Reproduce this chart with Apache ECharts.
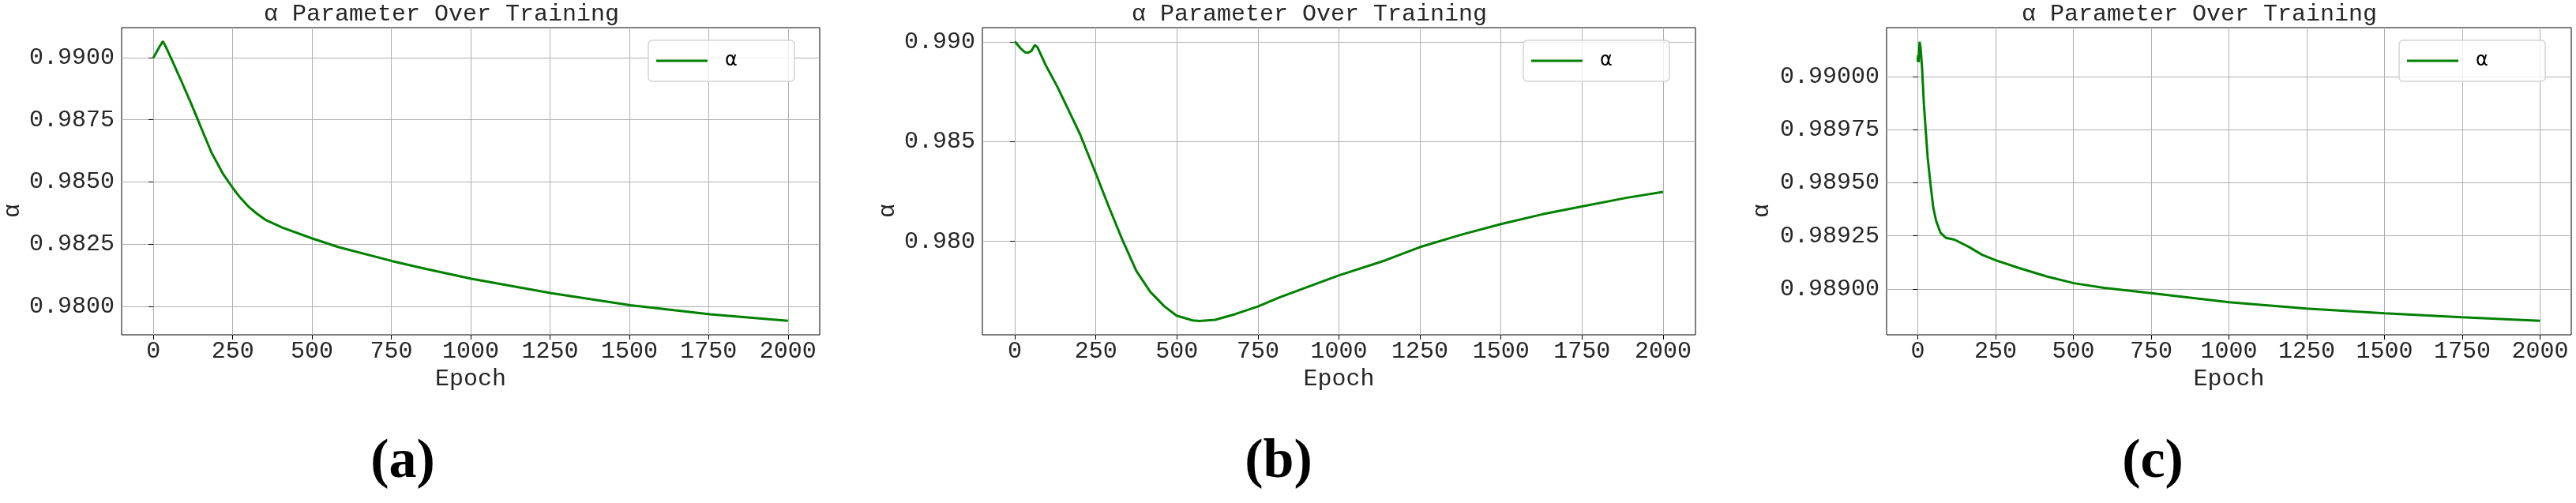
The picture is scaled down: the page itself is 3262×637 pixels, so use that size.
<!DOCTYPE html>
<html>
<head>
<meta charset="utf-8">
<script src="https://cdn.jsdelivr.net/npm/echarts@6/dist/echarts.min.js"></script>
<style>
html,body{margin:0;padding:0;background:#fff;}
#chart{width:3262px;height:637px;}
</style>
</head>
<body>
<div id="chart"></div>
<script>
// ---- data ----
const titleText = 'α Parameter Over Training';
const xName = 'Epoch';
const yName = 'α';
const seriesName = 'α';
const panelLabels = ['(a)', '(b)', '(c)'];

const xTicks = [0, 250, 500, 750, 1000, 1250, 1500, 1750, 2000];

const epochA = [0,10,20,30,40,57,85,121,152,183,219,252,274,299,326,352,406,501,584,753,861,1002,1254,1503,1754,2000];
const alphaA = [0.99000,0.99022,0.99045,0.99066,0.99042,0.98995,0.98915,0.98810,0.98714,0.98619,0.98534,0.98473,0.98437,0.98402,0.98373,0.98349,0.98317,0.98273,0.98238,0.98182,0.98150,0.98111,0.98053,0.98005,0.97968,0.97942];
const yTicksA = [0.9800, 0.9825, 0.9850, 0.9875, 0.9900];

const epochB = [0,18,32,40,51,62,70,96,131,166,201,250,288,331,375,418,462,499,549,570,618,679,750,818,864,999,1143,1249,1376,1500,1628,1749,1889,2000];
const alphaB = [0.99002,0.98967,0.98947,0.98945,0.98954,0.98984,0.98973,0.98881,0.98776,0.98657,0.98538,0.98340,0.98182,0.98011,0.97852,0.97747,0.97674,0.97628,0.97604,0.97601,0.97607,0.97635,0.97674,0.97720,0.97748,0.97829,0.97905,0.97971,0.98033,0.98087,0.98136,0.98175,0.98219,0.98248];
const yTicksB = [0.980, 0.985, 0.990];

const epochC = [0,1,3,6,9,14,20,26,32,41,50,59,73,91,118,163,208,251,326,416,502,598,750,1001,1249,1500,1748,2000];
const alphaC = [0.990071,0.990101,0.990067,0.990164,0.990139,0.990039,0.989866,0.989742,0.989618,0.989494,0.989383,0.989321,0.989265,0.989240,0.989232,0.989199,0.989160,0.989135,0.989098,0.989058,0.989027,0.989005,0.988980,0.988937,0.988908,0.988885,0.988867,0.988850];
const yTicksC = [0.98900, 0.98925, 0.98950, 0.98975, 0.99000];

// ---- layout ----
const panels = [
  {ep: epochA, al: alphaA, yt: yTicksA, dec: 4, ymin: 0.978857, ymax: 0.991206,
   left: 154, width: 884, legendLeft: 821, titleX: 559, ylabX: 16, subX: 510},
  {ep: epochB, al: alphaB, yt: yTicksB, dec: 3, ymin: 0.975319, ymax: 0.990712,
   left: 1244, width: 903, legendLeft: 1929, titleX: 1658, ylabX: 1124, subX: 1619},
  {ep: epochC, al: alphaC, yt: yTicksC, dec: 5, ymin: 0.988784, ymax: 0.990230,
   left: 2389, width: 867, legendLeft: 3038, titleX: 2785, ylabX: 2231, subX: 2726}
];
const gridTop = 35, gridHeight = 389;
const mono = 'Liberation Mono';
const green = '#008000';
const txt = '#262626';

const grids = [], xAxes = [], yAxes = [], series = [], legends = [], graphics = [];
panels.forEach((p, i) => {
  grids.push({left: p.left, top: gridTop, width: p.width, height: gridHeight,
    show: true, borderColor: '#000', borderWidth: 1, backgroundColor: 'transparent', containLabel: false});
  xAxes.push({
    type: 'value', gridIndex: i, min: -100, max: 2100,
    name: xName, nameLocation: 'middle', nameGap: 37,
    nameTextStyle: {fontFamily: mono, fontSize: 30, color: txt},
    axisLine: {show: false},
    axisTick: {show: true, length: 6, inside: false, lineStyle: {color: '#000', width: 1}, customValues: xTicks},
    axisLabel: {show: true, margin: 6, fontFamily: mono, fontSize: 30, color: txt, customValues: xTicks,
      formatter: v => String(Math.round(v))},
    splitLine: {show: true, lineStyle: {color: '#b0b0b0', width: 1}}
  });
  yAxes.push({
    type: 'value', gridIndex: i, min: p.ymin, max: p.ymax, scale: true,
    axisLine: {show: false},
    axisTick: {show: true, length: 6, inside: false, lineStyle: {color: '#000', width: 1}, customValues: p.yt},
    axisLabel: {show: true, margin: 9, fontFamily: mono, fontSize: 30, color: txt, customValues: p.yt,
      formatter: (v => (+v).toFixed(p.dec))},
    splitLine: {show: true, lineStyle: {color: '#b0b0b0', width: 1}}
  });
  series.push({
    type: 'line', name: seriesName, xAxisIndex: i, yAxisIndex: i,
    data: p.ep.map((e, k) => [e, p.al[k]]),
    showSymbol: false, symbol: 'none', smooth: false,
    color: green, itemStyle: {color: green},
    lineStyle: {color: green, width: 3}
  });
  legends.push({
    data: [seriesName], left: p.legendLeft, top: 51, orient: 'horizontal',
    icon: 'rect', itemWidth: 65, itemHeight: 3, itemGap: 0,
    padding: [11, 10, 11, 10],
    backgroundColor: 'rgba(255,255,255,0.8)', borderColor: '#d3d3d3', borderWidth: 1.5, borderRadius: 5,
    selectedMode: false,
    formatter: name => '{s|}' + name,
    textStyle: {fontFamily: 'DejaVu Sans', fontSize: 24, color: '#000', width: 95, lineHeight: 30,
      rich: {s: {width: 17, fontSize: 24, lineHeight: 30}}}
  });
  graphics.push({type: 'text', x: p.titleX, y: 18, silent: true,
    style: {text: titleText, fontFamily: mono, fontSize: 30, fill: txt, align: 'center', verticalAlign: 'middle',
            textAlign: 'center', textVerticalAlign: 'middle'}});
  graphics.push({type: 'text', x: p.ylabX, y: 267, rotation: Math.PI / 2, silent: true,
    style: {text: yName, fontFamily: mono, fontSize: 30, fill: txt, align: 'center', verticalAlign: 'middle',
            textAlign: 'center', textVerticalAlign: 'middle'}});
  graphics.push({type: 'text', x: p.subX, y: 586, silent: true,
    style: {text: panelLabels[i], fontFamily: 'Liberation Serif', fontWeight: 'bold', fontSize: 70, fill: '#000',
            align: 'center', verticalAlign: 'middle', textAlign: 'center', textVerticalAlign: 'middle'}});
});

const chart = echarts.init(document.getElementById('chart'), null, {renderer: 'canvas'});
chart.setOption({
  backgroundColor: '#fff',
  animation: false,
  grid: grids, xAxis: xAxes, yAxis: yAxes, series: series, legend: legends,
  graphic: graphics
});
</script>
</body>
</html>
